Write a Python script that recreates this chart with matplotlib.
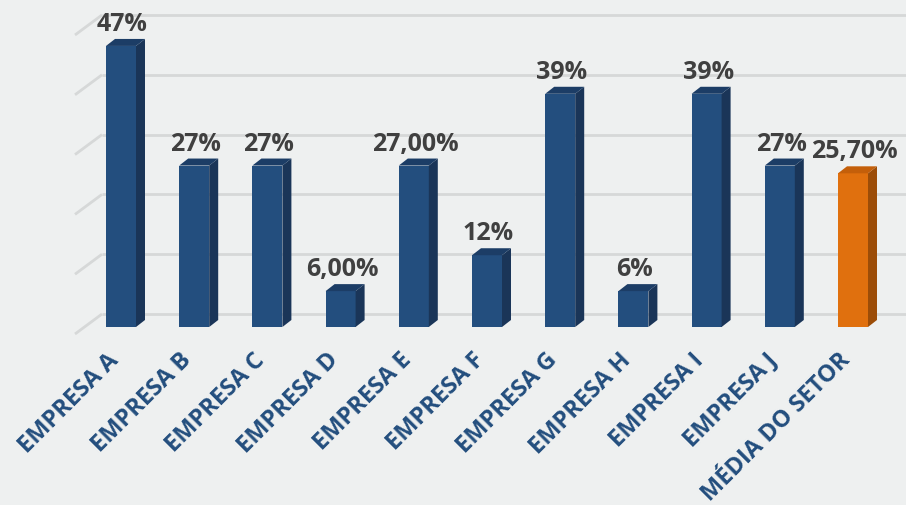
import matplotlib
matplotlib.use('Agg')

import matplotlib.pyplot as plt
from matplotlib.patches import Polygon

plt.rcParams['font.family'] = ['Open Sans', 'DejaVu Sans']

# Dados
categorias = ['EMPRESA A', 'EMPRESA B', 'EMPRESA C', 'EMPRESA D', 'EMPRESA E',
              'EMPRESA F', 'EMPRESA G', 'EMPRESA H', 'EMPRESA I', 'EMPRESA J',
              'MÉDIA DO SETOR']
valores = [47, 27, 27, 6, 27, 12, 39, 6, 39, 27, 25.7]
rotulos = ['47%', '27%', '27%', '6,00%', '27,00%', '12%', '39%', '6%', '39%',
           '27%', '25,70%']
grade = [0, 10, 20, 30, 40, 50]

# Cores
BG = '#eef0f0'
AZUL = ('#234e7e', '#1a3558', '#1c3d66')     # frente, lado, topo
LARANJA = ('#e0700e', '#9c4d08', '#c45f0a')
COR_GRADE = '#d6d8d8'

# escala: 73.2 px por categoria, 5.98 px por ponto percentual
PX_X = 73.2
PX_Y = 5.98
largura = 30 / PX_X
dx = 9 / PX_X
dy = 7 / PX_Y

fig = plt.figure(figsize=(9.06, 5.06), dpi=100, facecolor=BG)
ax = fig.add_axes([0, 0, 1, 1])
ax.set_facecolor(BG)
ax.set_xlim(-121 / PX_X, (906 - 121) / PX_X)
ax.set_ylim(-(506 - 328) / PX_Y, 328 / PX_Y)
ax.axis('off')

# grade em perspectiva
x_frente = (75 - 121) / PX_X
x_fundo = (102 - 121) / PX_X
baixo = 7 / PX_Y
cima = 13 / PX_Y
for g in grade:
    ax.plot([x_frente, x_fundo], [g - baixo, g + cima], color=COR_GRADE, lw=2, zorder=1,
            solid_capstyle='butt')
    ax.plot([x_fundo, 20], [g + cima, g + cima], color=COR_GRADE, lw=2, zorder=1,
            solid_capstyle='butt')

# barras 3D
for i, (v, rot) in enumerate(zip(valores, rotulos)):
    frente, lado, topo = LARANJA if i == len(valores) - 1 else AZUL
    ax.bar(i, v, width=largura, color=frente, zorder=3, linewidth=0)
    xr = i + largura / 2
    xl = i - largura / 2
    ax.add_patch(Polygon([(xr, 0), (xr + dx, dy), (xr + dx, v + dy), (xr, v)],
                         closed=True, facecolor=lado, edgecolor='none', zorder=3))
    ax.add_patch(Polygon([(xl, v), (xr, v), (xr + dx, v + dy), (xl + dx, v + dy)],
                         closed=True, facecolor=topo, edgecolor='none', zorder=3))
    ax.annotate(rot, (i + 0.02, v + dy), xytext=(0, 6.5), textcoords='offset points',
                ha='center', va='baseline', fontsize=18, fontweight='bold',
                color='#404040', zorder=4)
    ax.text(i - 6 / PX_X, -29 / PX_Y, categorias[i], rotation=45,
            rotation_mode='anchor', ha='right', va='center', fontsize=17,
            fontweight='bold', color='#234e7e')

fig.savefig('out.png', dpi=100, facecolor=BG)
plt.close(fig)
